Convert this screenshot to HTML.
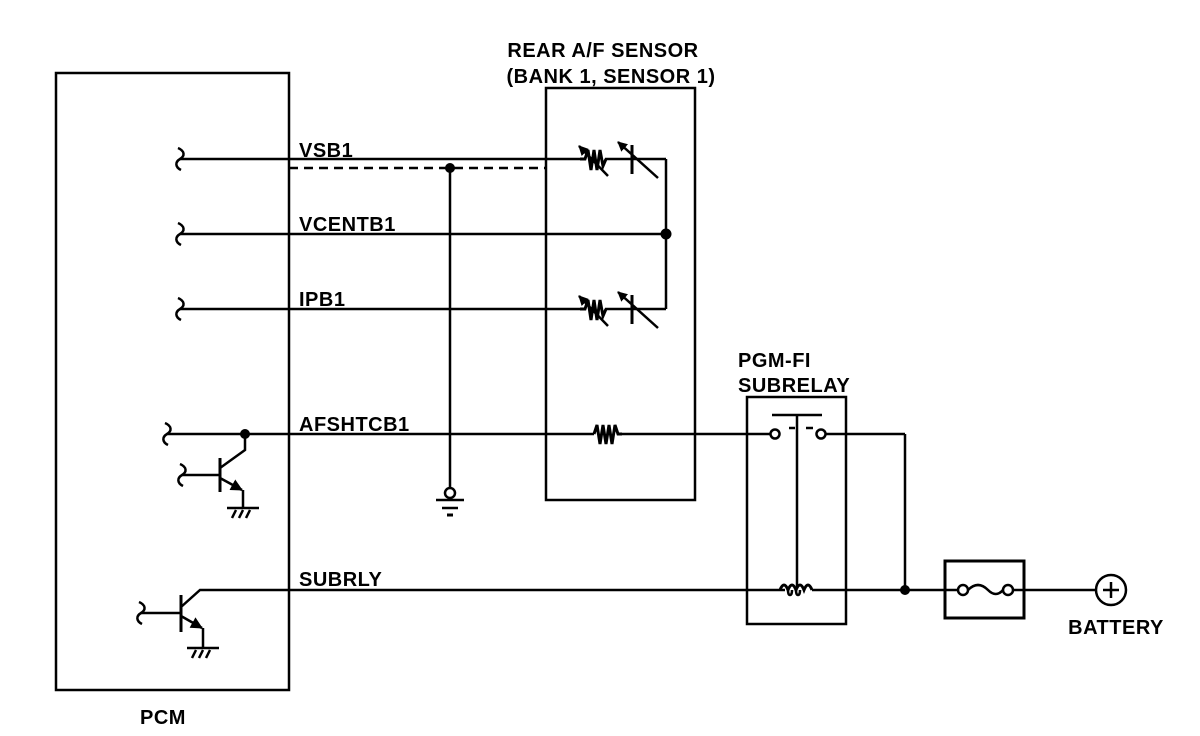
<!DOCTYPE html>
<html><head><meta charset="utf-8"><style>
html,body{margin:0;padding:0;background:#fff}
svg{display:block}
text{font-family:"Liberation Sans",Arial,sans-serif;font-weight:bold;font-size:20px;fill:#000;letter-spacing:0.5px}
</style></head><body>
<svg width="1200" height="736" viewBox="0 0 1200 736" xmlns="http://www.w3.org/2000/svg">
<defs>
<marker id="ah" markerWidth="10" markerHeight="10" refX="1" refY="5" orient="auto" markerUnits="userSpaceOnUse" viewBox="0 0 10 10"><path d="M10,0 L0,5 L10,10 z" fill="#000"/></marker>
<marker id="ae" markerWidth="12" markerHeight="12" refX="11" refY="6" orient="auto" markerUnits="userSpaceOnUse" viewBox="0 0 12 12"><path d="M0,0 L12,6 L0,12 z" fill="#000"/></marker>
<path id="brk" d="M0,-11 c7,3 7,8 2,11 c-5,3 -5,8 1,11" fill="none" stroke="#000" stroke-width="2.5"/>
<g id="vr">
<path d="M0,0 L5,0 L8,-9 L11,11 L14,-9 L17,11 L20,-9 L23,7 L26,0" fill="none" stroke="#000" stroke-width="3"/>
<line x1="-1" y1="-13" x2="28" y2="17" stroke="#000" stroke-width="2.5" marker-start="url(#ah)"/>
<line x1="52" y1="-14" x2="52" y2="15" stroke="#000" stroke-width="3"/>
<line x1="38" y1="-17" x2="78" y2="19" stroke="#000" stroke-width="2.5" marker-start="url(#ah)"/>
</g>
</defs>
<g fill="none" stroke="#000" stroke-width="2.5">
<rect x="56" y="73" width="233" height="617"/>
<rect x="546" y="88" width="149" height="412"/>
<rect x="747" y="397" width="99" height="227"/>
<rect x="945" y="561" width="79" height="57" stroke-width="3"/>
<use href="#brk" x="178" y="159"/>
<line x1="180" y1="159" x2="580" y2="159"/>
<line x1="289" y1="168" x2="546" y2="168" stroke-dasharray="9,6"/>
<line x1="605" y1="159" x2="666" y2="159"/>
<line x1="450" y1="168" x2="450" y2="487"/>
<circle cx="450" cy="493" r="5"/>
<line x1="436" y1="500" x2="464" y2="500"/>
<line x1="442" y1="508" x2="458" y2="508"/>
<line x1="447" y1="515" x2="453" y2="515" stroke-width="3"/>
<use href="#brk" x="178" y="234"/>
<line x1="180" y1="234" x2="666" y2="234"/>
<line x1="666" y1="159" x2="666" y2="309"/>
<use href="#brk" x="178" y="309"/>
<line x1="180" y1="309" x2="580" y2="309"/>
<line x1="605" y1="309" x2="666" y2="309"/>
<use href="#brk" x="165" y="434"/>
<line x1="167" y1="434" x2="594" y2="434"/>
<path d="M594,434 L597,425 L600,444 L603,425 L606,444 L609,425 L612,444 L615,425 L618,434 L622,434" stroke-width="3"/>
<line x1="622" y1="434" x2="770" y2="434"/>
<circle cx="775" cy="434" r="4.5" stroke-width="2.5"/>
<circle cx="821" cy="434" r="4.5" stroke-width="2.5"/>
<line x1="826" y1="434" x2="905" y2="434"/>
<line x1="905" y1="434" x2="905" y2="590"/>
<line x1="772" y1="415" x2="822" y2="415"/>
<line x1="797" y1="415" x2="797" y2="588"/>
<line x1="789" y1="428" x2="795" y2="428" stroke-width="2.5"/>
<line x1="806" y1="428" x2="813" y2="428" stroke-width="2.5"/>
<use href="#brk" x="180" y="475"/>
<line x1="182" y1="475" x2="220" y2="475"/>
<line x1="220" y1="458" x2="220" y2="492" stroke-width="3"/>
<path d="M220,468 L245,450 L245,434"/>
<line x1="220" y1="478" x2="242" y2="490" marker-end="url(#ae)"/>
<line x1="243" y1="490" x2="243" y2="508"/>
<line x1="227" y1="508" x2="259" y2="508"/>
<line x1="232" y1="518" x2="236" y2="510"/><line x1="239" y1="518" x2="243" y2="510"/><line x1="246" y1="518" x2="250" y2="510"/>
<use href="#brk" x="139" y="613"/>
<line x1="141" y1="613" x2="181" y2="613"/>
<line x1="181" y1="595" x2="181" y2="632" stroke-width="3"/>
<path d="M181,607 L200,590 L785,590"/>
<line x1="181" y1="616" x2="202" y2="628" marker-end="url(#ae)"/>
<line x1="203" y1="628" x2="203" y2="648"/>
<line x1="187" y1="648" x2="219" y2="648"/>
<line x1="192" y1="658" x2="196" y2="650"/><line x1="199" y1="658" x2="203" y2="650"/><line x1="206" y1="658" x2="210" y2="650"/>
<path d="M780,590 q4,-10 8,0 q4,-10 8,0 q4,-10 8,0 q4,-10 8,0" stroke-width="3"/>
<path d="M788,590 q0,5 2,5 q2,0 2,-5 M796,590 q0,5 2,5 q2,0 2,-5"/>
<line x1="812" y1="590" x2="958" y2="590"/>
<circle cx="963" cy="590" r="5"/>
<path d="M968,590 q10,-10 20,0 q8,8 15,0"/>
<circle cx="1008" cy="590" r="5"/>
<line x1="1013" y1="590" x2="1096" y2="590"/>
<circle cx="1111" cy="590" r="15" stroke-width="2.5"/>
<line x1="1103" y1="590" x2="1119" y2="590"/>
<line x1="1111" y1="582" x2="1111" y2="598"/>
</g>
<use href="#vr" x="580" y="159"/>
<use href="#vr" x="580" y="309"/>
<g fill="#000">
<circle cx="450" cy="168" r="5"/>
<circle cx="666" cy="234" r="5.5"/>
<circle cx="245" cy="434" r="5"/>
<circle cx="905" cy="590" r="5"/>
</g>
<text x="299" y="157">VSB1</text>
<text x="299" y="231">VCENTB1</text>
<text x="299" y="306">IPB1</text>
<text x="299" y="431">AFSHTCB1</text>
<text x="299" y="586">SUBRLY</text>
<text x="603" y="57" text-anchor="middle">REAR A/F SENSOR</text>
<text x="611" y="83" text-anchor="middle">(BANK 1, SENSOR 1)</text>
<text x="738" y="367">PGM-FI</text>
<text x="738" y="392">SUBRELAY</text>
<text x="163" y="724" text-anchor="middle">PCM</text>
<text x="1116" y="634" text-anchor="middle">BATTERY</text>
</svg>
</body></html>
